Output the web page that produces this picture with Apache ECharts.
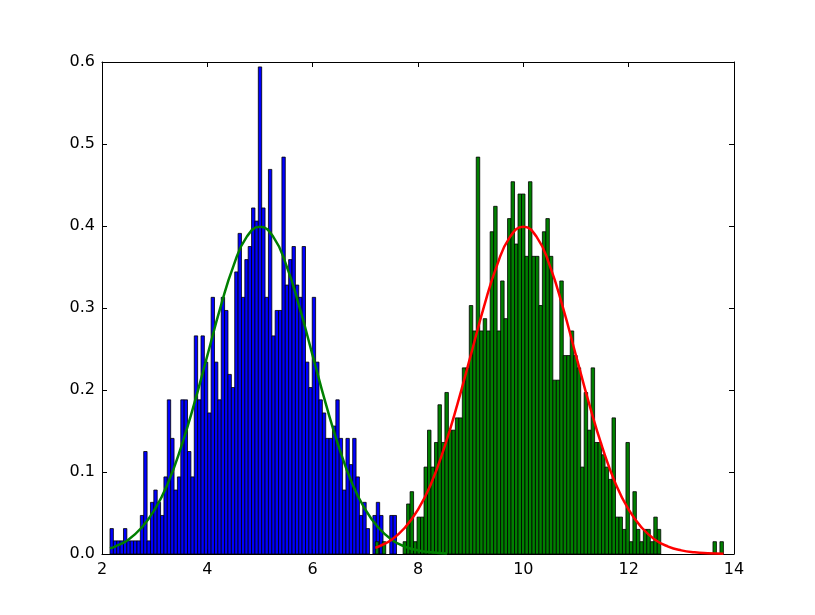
<!DOCTYPE html>
<html><head><meta charset="utf-8">
<script src="https://cdn.jsdelivr.net/npm/echarts/dist/echarts.min.js"></script>
<style>html,body{margin:0;padding:0;background:#fff}#c{width:815px;height:615px}</style>
</head><body><div id="c"></div>
<script>
// Histogram 1 (blue): bin edges start + width, density per bin
const blueStart = 2.152;
const blueBinWidth = 0.064;
const blueDensity = [
  0.031,0.016,0.016,0.016,0.031,0.016,0.016,0.016,0.016,0.047,
  0.125,0.016,0.063,0.078,0.063,0.047,0.094,0.188,0.141,0.078,
  0.094,0.188,0.188,0.125,0.094,0.266,0.188,0.266,0.234,0.172,
  0.313,0.234,0.188,0.313,0.297,0.219,0.203,0.344,0.391,0.313,
  0.359,0.375,0.422,0.406,0.594,0.422,0.313,0.469,0.266,0.297,
  0.297,0.484,0.328,0.359,0.375,0.328,0.313,0.375,0.234,0.203,
  0.313,0.234,0.188,0.172,0.141,0.141,0.156,0.188,0.141,0.078,
  0.141,0.109,0.141,0.094,0.047,0.063,0.031,0,0.047,0.063,
  0.047,0,0,0.047,0.047,0,0,0,0,0.016,
  0,0,0.016,0,0,0,0.016,0,0,0
];
// Histogram 2 (green)
const greenStart = 7.189;
const greenBinWidth = 0.0661;
const greenDensity = [
  0.015,0,0.015,0,0,0,0,0,0.015,0.061,
  0.076,0.015,0.045,0.045,0.106,0.151,0.106,0.136,0.182,0.136,
  0.197,0.151,0.151,0.166,0.166,0.227,0.227,0.303,0.272,0.484,
  0.272,0.287,0.272,0.393,0.424,0.272,0.333,0.287,0.409,0.454,
  0.378,0.439,0.439,0.363,0.454,0.363,0.363,0.303,0.393,0.409,
  0.363,0.212,0.212,0.333,0.242,0.242,0.272,0.242,0.227,0.106,
  0.197,0.151,0.227,0.136,0.136,0.121,0.106,0.091,0.166,0.045,
  0.045,0.030,0.136,0.015,0.076,0.030,0.015,0.030,0.030,0.015,
  0.045,0.030,0,0,0,0,0,0,0,0,
  0,0,0,0,0,0,0,0.015,0,0.015
];
// Fitted curves
const greenCurveX = [2.15,2.25,2.5,2.75,3,3.25,3.5,3.75,4,4.25,4.5,4.75,5,5.25,5.5,5.75,6,6.25,6.5,6.75,7,7.25,7.5,7.75,8,8.25,8.55];
const greenCurveY = [0.0069,0.0091,0.0175,0.032,0.054,0.086,0.130,0.183,0.242,0.301,0.352,0.387,0.399,0.387,0.352,0.301,0.242,0.183,0.130,0.086,0.054,0.032,0.0175,0.0091,0.0044,0.0020,0.0007];
const redCurveX = [7.19,7.25,7.5,7.75,8,8.25,8.5,8.75,9,9.25,9.5,9.75,10,10.25,10.5,10.75,11,11.25,11.5,11.75,12,12.25,12.5,12.75,13,13.25,13.5,13.8];
const redCurveY = [0.0077,0.0091,0.0175,0.032,0.054,0.086,0.130,0.183,0.242,0.301,0.352,0.387,0.399,0.387,0.352,0.301,0.242,0.183,0.130,0.086,0.054,0.032,0.0175,0.0091,0.0044,0.0020,0.0009,0.0003];
// Axes
const xMin = 2, xMax = 14, xStep = 2;
const yMin = 0, yMax = 0.6, yStep = 0.1;

function histData(start, w, arr) {
  return arr.map((h, i) => [start + i * w, start + (i + 1) * w, h]);
}
function histRender(color) {
  return function (params, api) {
    const h = api.value(2);
    if (!(h > 0)) return { type: 'group', children: [] };
    const p0 = api.coord([api.value(0), h]);
    const p1 = api.coord([api.value(1), 0]);
    return {
      type: 'rect',
      shape: { x: p0[0], y: p0[1], width: p1[0] - p0[0], height: p1[1] - p0[1] },
      style: { fill: color, stroke: '#000', lineWidth: 0.8 }
    };
  };
}
function pairs(xs, ys) { return xs.map((x, i) => [x, ys[i]]); }

const font = { color: '#000', fontSize: 16, fontFamily: 'DejaVu Sans' };
const axisBase = {
  axisLine: { show: true, onZero: false, lineStyle: { color: '#000', width: 1 } },
  axisTick: { show: true, inside: true, length: 5, lineStyle: { color: '#000', width: 1 } },
  splitLine: { show: false }
};

const chart = echarts.init(document.getElementById('c'), null, { renderer: 'canvas' });
chart.setOption({
  animation: false,
  backgroundColor: '#fff',
  grid: { left: 102, top: 62, width: 632, height: 492, containLabel: false },
  xAxis: [
    Object.assign({ type: 'value', position: 'bottom', min: xMin, max: xMax, interval: xStep,
      axisLabel: Object.assign({ margin: 8 }, font) }, axisBase),
    Object.assign({ type: 'value', position: 'top', min: xMin, max: xMax, interval: xStep,
      axisLabel: { show: false } }, axisBase)
  ],
  yAxis: [
    Object.assign({ type: 'value', position: 'left', min: yMin, max: yMax, interval: yStep,
      axisLabel: Object.assign({ margin: 7, formatter: v => v.toFixed(1) }, font) }, axisBase),
    Object.assign({ type: 'value', position: 'right', min: yMin, max: yMax, interval: yStep,
      axisLabel: { show: false } }, axisBase)
  ],
  series: [
    { type: 'custom', xAxisIndex: 0, yAxisIndex: 0, renderItem: histRender('#0000ff'),
      encode: { x: [0, 1], y: 2 }, data: histData(blueStart, blueBinWidth, blueDensity), z: 2 },
    { type: 'custom', xAxisIndex: 0, yAxisIndex: 0, renderItem: histRender('#008000'),
      encode: { x: [0, 1], y: 2 }, data: histData(greenStart, greenBinWidth, greenDensity), z: 3 },
    { type: 'line', xAxisIndex: 0, yAxisIndex: 0, data: pairs(greenCurveX, greenCurveY),
      showSymbol: false, smooth: true,
      lineStyle: { color: '#008000', width: 2.5 }, z: 4 },
    { type: 'line', xAxisIndex: 0, yAxisIndex: 0, data: pairs(redCurveX, redCurveY),
      showSymbol: false, smooth: true,
      lineStyle: { color: '#ff0000', width: 2.5 }, z: 5 }
  ]
});
</script>
</body></html>
